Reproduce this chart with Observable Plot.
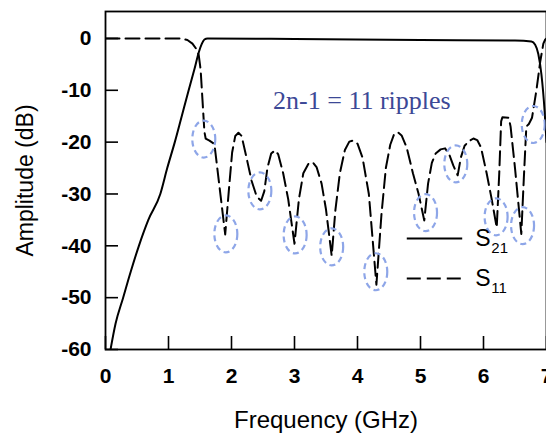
<!DOCTYPE html>
<html>
<head>
<meta charset="utf-8">
<script src="https://cdn.jsdelivr.net/npm/d3@7"></script>
<script src="https://cdn.jsdelivr.net/npm/@observablehq/plot@0.6"></script>
<style>
  html, body { margin: 0; padding: 0; background: #fff; }
  #chart { width: 546px; height: 435px; overflow: hidden; }
</style>
</head>
<body>
<div id="chart"></div>
<script>
// ---- data ----
const freqS21 = [0.08, 0.16, 0.28, 0.40, 0.53, 0.68, 0.87, 0.98, 1.10, 1.21, 1.32, 1.41, 1.48, 1.53, 1.57, 1.62, 3.0, 5.0, 6.5, 6.76, 6.82, 6.87, 6.92, 6.97, 7.0];
const dbS21   = [-60, -55, -50, -45, -40, -35, -30, -25, -20, -15, -10, -6, -2.7, -1, -0.2, 0, -0.1, -0.3, -0.4, -0.6, -1.2, -3, -7, -14, -20];

const freqS11 = [0, 1.2, 1.3, 1.38, 1.44, 1.48, 1.51, 1.54, 1.57, 1.59, 1.65, 1.71, 1.73, 1.9,
  1.96, 2.01, 2.06, 2.11, 2.16, 2.22, 2.32, 2.40, 2.47, 2.52, 2.57, 2.63, 2.69, 2.74, 2.82, 2.90, 3.0,
  3.07, 3.14, 3.22, 3.29, 3.35, 3.43, 3.50, 3.59, 3.65, 3.72, 3.80, 3.87, 3.93, 4.0, 4.08, 4.18, 4.30,
  4.38, 4.45, 4.52, 4.58, 4.64, 4.70, 4.78, 4.88, 4.97, 5.06, 5.12, 5.18, 5.24, 5.32, 5.39, 5.46, 5.52, 5.59,
  5.64, 5.70, 5.77, 5.84, 5.90, 5.96, 6.05, 6.13, 6.21, 6.25, 6.28, 6.30, 6.40, 6.43, 6.50, 6.60,
  6.64, 6.68, 6.72, 6.77, 6.84, 6.90, 6.95, 6.98, 7.0];
const dbS11 = [0, 0, -0.3, -1, -2, -3.2, -6, -12, -18, -19.3, -19.7, -20.2, -20.5, -37.8,
  -29, -22, -18.8, -18.2, -18.8, -22, -27.5, -30.5, -31.3, -29.5, -25, -22.2, -21.6, -22.3, -26, -31, -39.6,
  -31, -26, -24.2, -23.9, -24.8, -28, -33, -41.9, -33, -26, -21.5, -19.9, -19.7, -20.3, -23, -30, -47.5,
  -34, -25, -20.5, -18.5, -18.1, -18.7, -21, -26, -30, -35.1, -28, -24, -22.2, -21.4, -21.2, -22.5, -24.5, -26.4,
  -23, -20.7, -19.8, -19.3, -19.6, -21, -26, -31, -36.5, -26, -16, -15.2, -15.3, -17, -25, -37.7,
  -27, -17, -16.5, -15.3, -10, -4.5, -1, -0.2, 0];

// highlighted ripples (ellipse centres)
const rippleFreq = [1.56, 1.91, 2.45, 3.01, 3.59, 4.29, 5.08, 5.56, 6.20, 6.62, 6.79];
const rippleDb   = [-19.4, -37.7, -29.4, -37.9, -40.2, -45.0, -33.6, -24.2, -34.4, -36.1, -16.6];

const xTicks = [0, 1, 2, 3, 4, 5, 6, 7];
const yTicks = [-60, -50, -40, -30, -20, -10, 0];

const annotationText = "2n-1 = 11 ripples";
const legendNames = ["S", "S"];
const legendSubs = ["21", "11"];

// ---- build rows ----
const s21 = freqS21.map((f, i) => ({f, db: dbS21[i]}));
const s11 = freqS11.map((f, i) => ({f, db: dbS11[i]}));
const ripples = rippleFreq.map((f, i) => ({f, db: rippleDb[i]}));

// legend placement (data coordinates)
const legX1 = 4.79, legX2 = 5.67, legTextX = 5.87;
const legY = [-38.6, -46.3];
const legend = legendNames.map((n, i) => ({name: n, sub: legendSubs[i], y: legY[i], dashed: i === 1}));

// ellipse glyph for highlighting
const ellipse = {
  draw(ctx) {
    const rx = 11.5, ry = 18.5, k = 0.5523;
    ctx.moveTo(rx, 0);
    ctx.bezierCurveTo(rx, ry * k, rx * k, ry, 0, ry);
    ctx.bezierCurveTo(-rx * k, ry, -rx, ry * k, -rx, 0);
    ctx.bezierCurveTo(-rx, -ry * k, -rx * k, -ry, 0, -ry);
    ctx.bezierCurveTo(rx * k, -ry, rx, -ry * k, rx, 0);
    ctx.closePath();
  }
};

const sans = "'Liberation Sans', Arial, Helvetica, sans-serif";
const serif = "'Liberation Serif', 'Times New Roman', serif";

const chart = Plot.plot({
  width: 546,
  height: 435,
  marginLeft: 105,
  marginRight: 0,
  marginTop: 11,
  marginBottom: 86,
  x: {domain: [0, 7]},
  y: {domain: [-60, 5.2]},
  style: {fontFamily: sans, background: "#fff", color: "#000", overflow: "hidden"},
  marks: [
    Plot.axisX(xTicks, {anchor: "bottom", tickSize: -13, tickPadding: 32, strokeWidth: 1.6,
      fontSize: 21, fontWeight: "bold", label: null, tickFormat: d => String(d)}),
    Plot.axisY(yTicks, {anchor: "left", tickSize: -13, tickPadding: 27, strokeWidth: 1.6,
      fontSize: 21, fontWeight: "bold", label: null, tickFormat: d => String(d)}),
    Plot.text(["Frequency (GHz)"], {frameAnchor: "bottom", dy: 71, lineAnchor: "middle", textAnchor: "middle",
      fontSize: 24, fill: "#000"}),
    Plot.text(["Amplitude (dB)"], {frameAnchor: "left", dx: -80, rotate: -90, lineAnchor: "middle", textAnchor: "middle",
      fontSize: 23, fill: "#000"}),
    Plot.line(s21, {x: "f", y: "db", stroke: "#000", strokeWidth: 2, curve: "monotone-x", clip: true}),
    Plot.line(s11, {x: "f", y: "db", stroke: "#000", strokeWidth: 2, strokeDasharray: "14,6", clip: true}),
    Plot.dot(ripples, {x: "f", y: "db", symbol: ellipse, r: 10, stroke: "#8ea6e8", strokeWidth: 2.2,
      strokeDasharray: "6,4", fill: "none"}),
    Plot.text([annotationText], {x: 2.66, y: -12, textAnchor: "start", lineAnchor: "middle",
      fontFamily: serif, fontSize: 26, fill: "#3c4896"}),
    Plot.ruleY(legend.filter(d => !d.dashed), {y: "y", x1: legX1, x2: legX2, stroke: "#000", strokeWidth: 2}),
    Plot.ruleY(legend.filter(d => d.dashed), {y: "y", x1: legX1, x2: legX2, stroke: "#000", strokeWidth: 2, strokeDasharray: "14,6"}),
    Plot.text(legend, {x: legTextX, y: "y", text: "name", textAnchor: "start", lineAnchor: "middle",
      fontSize: 23, fill: "#000"}),
    Plot.text(legend, {x: legTextX, y: "y", text: "sub", textAnchor: "start", lineAnchor: "middle",
      dx: 16, dy: 10, fontSize: 15, fill: "#000"}),
    Plot.frame({stroke: "#000", strokeWidth: 1.8})
  ]
});
document.getElementById("chart").appendChild(chart);
</script>
</body>
</html>
